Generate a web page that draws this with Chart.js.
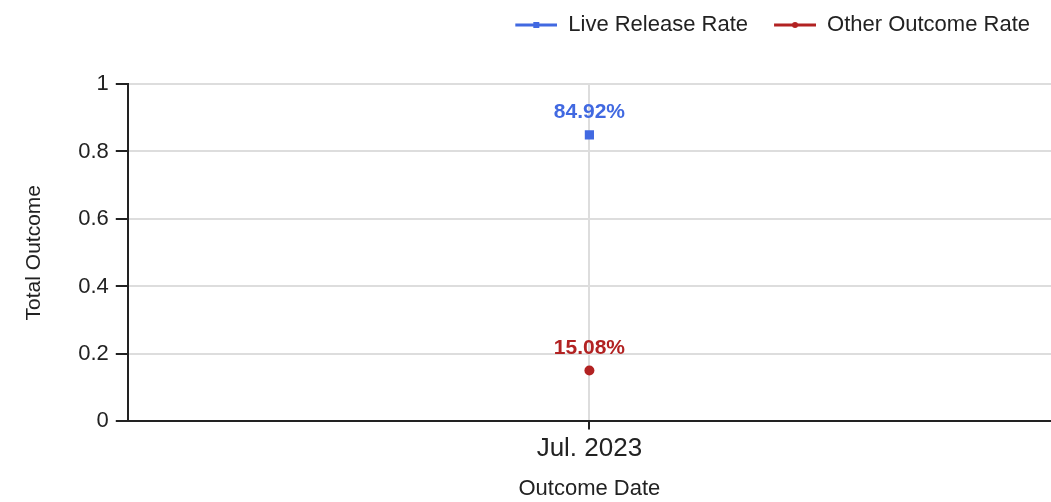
<!DOCTYPE html>
<html>
<head>
<meta charset="utf-8">
<script src="https://cdn.jsdelivr.net/npm/chart.js@4/dist/chart.umd.min.js"></script>
<style>
  html, body { margin: 0; padding: 0; background: #fff; }
  #wrap { width: 1051px; height: 502px; }
</style>
</head>
<body>
<div id="wrap"><canvas id="myChart"></canvas></div>
<script>
const categories = ["Jul. 2023"];
const seriesNames = ["Live Release Rate", "Other Outcome Rate"];
const liveRelease = [0.8492];
const otherOutcome = [0.1508];
const yTicks = [0, 0.2, 0.4, 0.6, 0.8, 1];

const blue = "#4169e1";
const red = "#b22222";
const dark = "#222222";

Chart.defaults.font.family = "'Liberation Sans', Arial, sans-serif";

// line+marker picture for the legend, with some blank room on the left as item gap
function legendIcon(color, shape) {
    let c = document.createElement("canvas");
    c.width = 56;
    c.height = 10;
    let ctx = c.getContext("2d");
    ctx.strokeStyle = color;
    ctx.lineWidth = 3;
    ctx.beginPath();
    ctx.moveTo(14, 5);
    ctx.lineTo(56, 5);
    ctx.stroke();
    ctx.fillStyle = color;
    if (shape == "rect") {
        ctx.fillRect(32, 2, 6, 6);
    } else {
        ctx.beginPath();
        ctx.arc(35, 5, 3, 0, Math.PI * 2);
        ctx.fill();
    }
    return c;
}

const valueLabels = {
    id: "valueLabels",
    afterDatasetsDraw(chart) {
        let ctx = chart.ctx;
        ctx.save();
        ctx.font = "bold 21px 'Liberation Sans', Arial, sans-serif";
        ctx.textAlign = "center";
        ctx.textBaseline = "bottom";
        chart.data.datasets.forEach((ds, i) => {
            let meta = chart.getDatasetMeta(i);
            meta.data.forEach((pt, j) => {
                ctx.fillStyle = ds.borderColor;
                ctx.fillText((ds.data[j] * 100).toFixed(2) + "%", pt.x, pt.y - 12);
            });
        });
        ctx.restore();
    }
};

const legendGap = {
    id: "legendGap",
    beforeInit(chart) {
        let fit = chart.legend.fit;
        chart.legend.fit = function () {
            fit.bind(chart.legend)();
            this.height += 38;
        };
    },
    afterLayout(chart) {
        chart.legend.right -= 9;
    }
};

function noSidePadding(axis) {
    axis.paddingRight = 0;
    axis.paddingLeft = 0;
}

new Chart("myChart", {
    type: "line",
    data: {
        labels: categories,
        datasets: [{
            label: seriesNames[0],
            data: liveRelease,
            borderColor: blue,
            backgroundColor: blue,
            pointStyle: "rect",
            pointRadius: 6.5,
            pointBorderWidth: 0,
            borderWidth: 3
        }, {
            label: seriesNames[1],
            data: otherOutcome,
            borderColor: red,
            backgroundColor: red,
            pointStyle: "circle",
            pointRadius: 5,
            pointBorderWidth: 0,
            borderWidth: 3
        }]
    },
    options: {
        responsive: true,
        maintainAspectRatio: false,
        animation: false,
        layout: { autoPadding: false, padding: { left: 0, right: 0, top: 2, bottom: 0 } },
        plugins: {
            tooltip: { enabled: false },
            legend: {
                position: "top",
                align: "end",
                labels: {
                    usePointStyle: true,
                    pointStyleWidth: 56,
                    color: dark,
                    font: { size: 22 },
                    padding: 12,
                    generateLabels(chart) {
                        return chart.data.datasets.map((ds, i) => ({
                            text: ds.label,
                            pointStyle: legendIcon(ds.borderColor, ds.pointStyle),
                            fontColor: dark,
                            datasetIndex: i,
                            lineWidth: 0
                        }));
                    }
                }
            }
        },
        scales: {
            x: {
                type: "category",
                offset: true,
                afterFit: noSidePadding,
                grid: { offset: false, color: "#dddddd", tickColor: dark, tickLength: 8, lineWidth: 2 },
                border: { color: dark, width: 2 },
                ticks: { color: dark, font: { size: 26 }, padding: 4 },
                title: { display: true, text: "Outcome Date", color: dark, font: { size: 22 }, padding: { top: 7, bottom: 0 } }
            },
            y: {
                min: 0,
                max: 1,
                afterFit: noSidePadding,
                afterBuildTicks(axis) {
                    axis.ticks = yTicks.map(v => ({ value: v }));
                },
                grid: { color: "#dddddd", tickColor: dark, tickLength: 12, lineWidth: 2 },
                border: { color: dark, width: 2 },
                ticks: {
                    color: dark,
                    font: { size: 22 },
                    padding: 7,
                    callback: v => String(v)
                },
                title: { display: true, text: "Total Outcome", color: dark, font: { size: 21 }, padding: { top: 22, bottom: 24 } }
            }
        }
    },
    plugins: [valueLabels, legendGap]
});
</script>
</body>
</html>
